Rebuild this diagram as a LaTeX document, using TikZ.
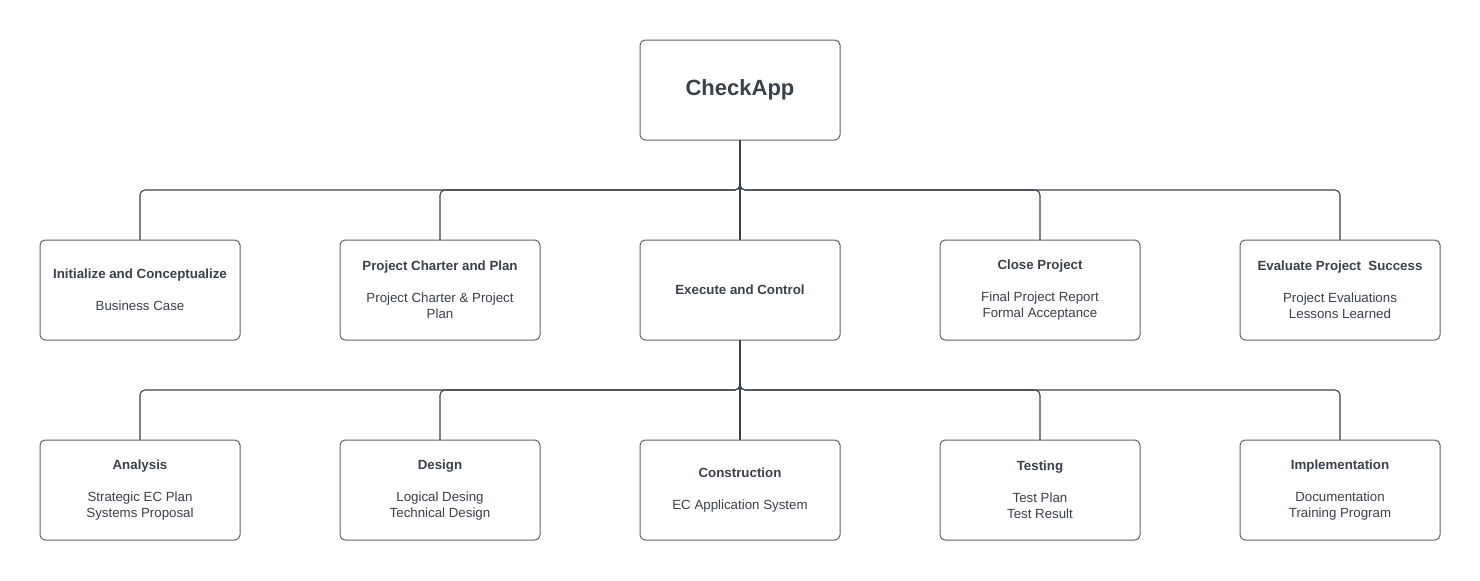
\documentclass[tikz,border=0pt]{standalone}
\usepackage{fontspec}
\setmainfont{Liberation Sans}
\usepackage{tikz}
\definecolor{txtcol}{HTML}{3A414A}
\definecolor{boxcol}{HTML}{5E636B}
\definecolor{linecol}{HTML}{3A414A}
\tikzset{
    box/.style={draw=boxcol, line width=0.5pt, rounded corners=2.5pt, fill=white,
        minimum width=100pt, minimum height=50pt, inner sep=0pt, outer sep=0pt,
        align=center, text=txtcol, font=\fontsize{6.65}{8}\selectfont},
    link/.style={draw=linecol, line width=0.55pt, rounded corners=2.5pt}
}
\begin{document}
\begin{tikzpicture}[x=0.5pt,y=-0.5pt]
    \useasboundingbox (0,0) rectangle (1480,580);
    % Raiz
    \node[box, font=\fontsize{11}{13}\selectfont\bfseries] (root) at (740,90) {\raisebox{1pt}{CheckApp}};
    % Fases
    \node[box] (p1) at (140,290) {\textbf{Initialize and Conceptualize}\\[8pt]Business Case};
    \node[box] (p2) at (440,290) {\textbf{Project Charter and Plan}\\[8pt]Project Charter \& Project\\Plan};
    \node[box] (p3) at (740,290) {\textbf{Execute and Control}};
    \node[box] (p4) at (1040,290) {\textbf{Close Project}\\[8pt]Final Project Report\\Formal Acceptance};
    \node[box] (p5) at (1340,290) {\textbf{Evaluate Project\ \ Success}\\[8pt]Project Evaluations\\Lessons Learned};
    % Etapas de execução
    \node[box] (e1) at (140,490) {\textbf{Analysis}\\[8pt]Strategic EC Plan\\Systems Proposal};
    \node[box] (e2) at (440,490) {\textbf{Design}\\[8pt]Logical Desing\\Technical Design};
    \node[box] (e3) at (740,490) {\textbf{Construction}\\[8pt]EC Application System};
    \node[box] (e4) at (1040,490) {\textbf{Testing}\\[8pt]Test Plan\\Test Result};
    \node[box] (e5) at (1340,490) {\textbf{Implementation}\\[8pt]Documentation\\Training Program};
    % Conexões
    \foreach \i in {1,...,5}
        \draw[link] (root.south) -- ++(0,50) -| (p\i.north);
    \foreach \i in {1,...,5}
        \draw[link] (p3.south) -- ++(0,50) -| (e\i.north);
\end{tikzpicture}
\end{document}
